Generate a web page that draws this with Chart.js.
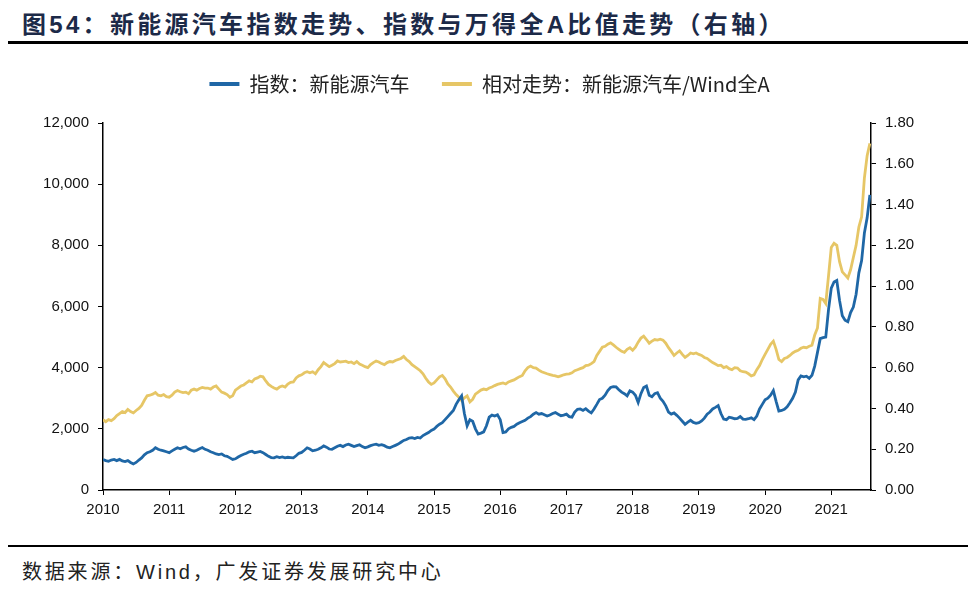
<!DOCTYPE html>
<html>
<head>
<meta charset="utf-8">
<script src="https://cdn.jsdelivr.net/npm/chart.js@4.4.1/dist/chart.umd.min.js"></script>
<style>
  html, body { margin: 0; padding: 0; background: #fff; }
  body { width: 979px; height: 595px; position: relative; overflow: hidden; }
  #title {
    position: absolute; left: 22px; top: 5px;
    font: bold 24px "Liberation Sans", "Noto Sans CJK SC", sans-serif;
    letter-spacing: 3.3px; color: #1c2a48; white-space: nowrap;
  }
  #topRule { position: absolute; left: 8px; width: 960px; top: 41px; height: 2.5px; background: #000; }
  #bottomRule { position: absolute; left: 8px; width: 960px; top: 545px; height: 1.5px; background: #000; }
  #source {
    position: absolute; left: 22px; top: 556px;
    font: 20px "Liberation Sans", "Noto Sans CJK SC", sans-serif;
    letter-spacing: 2.8px; color: #222; white-space: nowrap;
  }
  #box { position: absolute; left: 0; top: 0; width: 979px; height: 525px; }
</style>
</head>
<body>
<div id="title">图54：新能源汽车指数走势、指数与万得全A比值走势（右轴）</div>
<div id="topRule"></div>
<div id="box"><canvas id="trendChart"></canvas></div>
<div id="bottomRule"></div>
<div id="source">数据来源：Wind，广发证券发展研究中心</div>

<script>
// half-monthly readings, starting Jan 2010
const startYear = 2010;
const perYear = 24;
const yearTicks = [2010, 2011, 2012, 2013, 2014, 2015, 2016, 2017, 2018, 2019, 2020, 2021];

const seriesNames = ['指数：新能源汽车', '相对走势：新能源汽车/Wind全A'];

// 指数：新能源汽车 (left axis)
const indexValues = [
    // 2010
    1000, 960, 940, 980, 1000, 960, 1000, 950, 930, 960, 900, 850,
    900, 980, 1050, 1150, 1220, 1250, 1300, 1380, 1330, 1300, 1280, 1250,
    // 2011
    1220, 1280, 1330, 1380, 1350, 1390, 1410, 1340, 1300, 1270, 1300, 1350,
    1390, 1330, 1300, 1250, 1220, 1180, 1160, 1180, 1120, 1100, 1050, 1000,
    // 2012
    1020, 1080, 1130, 1170, 1200, 1250, 1270, 1220, 1240, 1260, 1220, 1160,
    1100, 1060, 1050, 1090, 1060, 1080, 1050, 1070, 1060, 1050, 1120, 1200,
    // 2013
    1230, 1300, 1380, 1340, 1280, 1300, 1330, 1380, 1440, 1400, 1340, 1330,
    1380, 1430, 1460, 1420, 1470, 1500, 1460, 1420, 1450, 1480, 1420, 1380,
    // 2014
    1410, 1450, 1480, 1500, 1460, 1480, 1450, 1400, 1380, 1420, 1460, 1500,
    1560, 1620, 1650, 1700, 1710, 1680, 1720, 1700, 1780, 1830, 1880, 1950,
    // 2015
    1990, 2080, 2150, 2200, 2300, 2400, 2500, 2600, 2800, 2950, 3080, 2500,
    2100, 2300, 2250, 2000, 1830, 1860, 1900, 2100, 2380, 2450, 2420, 2460,
    // 2016
    2300, 1880, 1900, 2000, 2050, 2080, 2150, 2200, 2240, 2280, 2350, 2400,
    2480, 2530, 2480, 2500, 2460, 2420, 2450, 2500, 2530, 2480, 2430, 2450,
    // 2017
    2480, 2400, 2380, 2550, 2640, 2650, 2600, 2660, 2580, 2520, 2650, 2800,
    2960, 3000, 3100, 3250, 3350, 3380, 3370, 3280, 3200, 3150, 3080, 3240,
    // 2018
    3200, 3100, 2860, 3150, 3350, 3400, 3100, 3050, 3150, 3180, 3000, 2900,
    2750, 2550, 2480, 2520, 2440, 2350, 2250, 2150, 2220, 2280, 2210, 2180,
    // 2019
    2200, 2260, 2350, 2480, 2550, 2650, 2700, 2760, 2500, 2320, 2300, 2380,
    2360, 2330, 2340, 2400, 2320, 2310, 2330, 2360, 2300, 2420, 2650, 2800,
    // 2020
    2950, 3000, 3100, 3250, 2900, 2580, 2600, 2640, 2720, 2850, 3000, 3200,
    3600, 3730, 3700, 3720, 3650, 3750, 4050, 4500, 4950, 4980, 5000, 5900,
    // 2021
    6600, 6800, 6850, 6200, 5700, 5550, 5500, 5800, 5980, 6400, 7100, 7500,
    8400, 8900, 9650
];

// 相对走势：新能源汽车/Wind全A (right axis)
const ratioValues = [
    // 2010
    0.345, 0.335, 0.345, 0.340, 0.350, 0.365, 0.375, 0.385, 0.380, 0.395, 0.385, 0.378,
    0.390, 0.400, 0.415, 0.440, 0.462, 0.465, 0.470, 0.478, 0.465, 0.462, 0.468, 0.458,
    // 2011
    0.455, 0.465, 0.480, 0.488, 0.482, 0.478, 0.480, 0.472, 0.490, 0.495, 0.490, 0.498,
    0.503, 0.500, 0.500, 0.495, 0.505, 0.510, 0.495, 0.480, 0.475, 0.468, 0.455, 0.462,
    // 2012
    0.490, 0.500, 0.510, 0.515, 0.525, 0.535, 0.530, 0.545, 0.550, 0.558, 0.555, 0.535,
    0.518, 0.508, 0.500, 0.495, 0.505, 0.510, 0.505, 0.520, 0.528, 0.530, 0.550, 0.560,
    // 2013
    0.565, 0.575, 0.580, 0.575, 0.580, 0.570, 0.590, 0.605, 0.625, 0.615, 0.605, 0.612,
    0.620, 0.633, 0.628, 0.630, 0.632, 0.625, 0.628, 0.620, 0.630, 0.618, 0.612, 0.605,
    // 2014
    0.600, 0.615, 0.625, 0.633, 0.628, 0.620, 0.615, 0.625, 0.630, 0.628, 0.635, 0.640,
    0.645, 0.655, 0.640, 0.630, 0.615, 0.605, 0.595, 0.585, 0.570, 0.548, 0.530, 0.518,
    // 2015
    0.525, 0.540, 0.555, 0.562, 0.545, 0.520, 0.505, 0.485, 0.468, 0.455, 0.438, 0.452,
    0.462, 0.432, 0.445, 0.470, 0.480, 0.490, 0.495, 0.492, 0.500, 0.505, 0.512, 0.518,
    // 2016
    0.522, 0.525, 0.520, 0.530, 0.535, 0.540, 0.548, 0.556, 0.562, 0.585, 0.600, 0.608,
    0.600, 0.598, 0.588, 0.580, 0.575, 0.570, 0.566, 0.562, 0.560, 0.555, 0.560, 0.565,
    // 2017
    0.568, 0.570, 0.575, 0.585, 0.590, 0.595, 0.600, 0.610, 0.612, 0.620, 0.630, 0.660,
    0.680, 0.700, 0.705, 0.715, 0.722, 0.712, 0.700, 0.690, 0.680, 0.675, 0.690, 0.698,
    // 2018
    0.685, 0.700, 0.725, 0.745, 0.755, 0.738, 0.720, 0.730, 0.738, 0.735, 0.740, 0.735,
    0.720, 0.698, 0.680, 0.660, 0.672, 0.682, 0.665, 0.650, 0.660, 0.672, 0.668, 0.672,
    // 2019
    0.665, 0.660, 0.650, 0.645, 0.635, 0.625, 0.618, 0.610, 0.612, 0.600, 0.605, 0.595,
    0.590, 0.600, 0.598, 0.585, 0.580, 0.578, 0.570, 0.560, 0.565, 0.590, 0.610, 0.640,
    // 2020
    0.665, 0.690, 0.715, 0.730, 0.690, 0.640, 0.630, 0.645, 0.650, 0.660, 0.672, 0.680,
    0.685, 0.695, 0.700, 0.698, 0.705, 0.710, 0.760, 0.795, 0.940, 0.935, 0.915, 1.050,
    // 2021
    1.190, 1.210, 1.200, 1.120, 1.070, 1.055, 1.040, 1.080, 1.140, 1.200, 1.290, 1.340,
    1.530, 1.640, 1.700
];

const blue = '#1f67a6';
const gold = '#e6c666';
const axisFont = { family: '"Liberation Sans", Arial, sans-serif', size: 15 };

function toPoints(values) {
    return values.map((v, i) => ({ x: startYear + i / perYear, y: v }));
}

// push the plot down a little below the legend
const legendGap = {
    id: 'legendGap',
    beforeInit(chart) {
        const fit = chart.legend.fit;
        chart.legend.fit = function () {
            fit.call(this);
            this.height += 19;
        };
    }
};

const ctx = document.getElementById('trendChart');
new Chart(ctx, {
    type: 'line',
    data: {
        datasets: [{
            label: seriesNames[0],
            data: toPoints(indexValues),
            borderColor: blue,
            backgroundColor: blue,
            borderWidth: 2.8,
            pointRadius: 0,
            yAxisID: 'y'
        }, {
            label: seriesNames[1],
            data: toPoints(ratioValues),
            borderColor: gold,
            backgroundColor: gold,
            borderWidth: 2.8,
            pointRadius: 0,
            yAxisID: 'y1'
        }]
    },
    options: {
        responsive: true,
        maintainAspectRatio: false,
        animation: false,
        layout: { padding: { top: 66, left: 0, right: 0, bottom: 0 } },
        plugins: {
            tooltip: { enabled: false },
            legend: {
                position: 'top',
                labels: {
                    usePointStyle: true,
                    pointStyle: 'line',
                    pointStyleWidth: 30,
                    padding: 8,
                    color: '#222',
                    font: { family: '"Noto Sans CJK SC", sans-serif', size: 20 },
                    generateLabels(chart) {
                        const items = Chart.defaults.plugins.legend.labels.generateLabels(chart);
                        items.forEach(item => { item.lineWidth = 4; });
                        items[0].text += '　 ';
                        return items;
                    }
                }
            }
        },
        scales: {
            x: {
                type: 'linear',
                min: 2010,
                max: 2021.6,
                afterBuildTicks(scale) {
                    scale.ticks = yearTicks.map(v => ({ value: v }));
                },
                grid: { drawOnChartArea: false, drawTicks: true, tickLength: 5, color: '#000' },
                border: { color: '#000', width: 1.5 },
                ticks: {
                    color: '#111',
                    font: axisFont,
                    padding: 6,
                    maxRotation: 0,
                    autoSkip: false,
                    callback: v => String(v)
                }
            },
            y: {
                position: 'left',
                min: 0,
                max: 12000,
                afterFit(scale) { scale.width = 103; },
                grid: { drawOnChartArea: false, drawTicks: true, tickLength: 5, color: '#000' },
                border: { color: '#000', width: 1.5 },
                ticks: {
                    stepSize: 2000,
                    color: '#111',
                    font: axisFont,
                    padding: 9,
                    callback: v => v.toLocaleString('en-US')
                }
            },
            y1: {
                position: 'right',
                min: 0,
                max: 1.8,
                afterFit(scale) { scale.width = 108; },
                grid: { drawOnChartArea: false, drawTicks: true, tickLength: 5, color: '#000' },
                border: { color: '#000', width: 1.5 },
                ticks: {
                    stepSize: 0.2,
                    color: '#111',
                    font: axisFont,
                    padding: 9,
                    callback: v => v.toFixed(2)
                }
            }
        }
    },
    plugins: [legendGap]
});
</script>
</body>
</html>
